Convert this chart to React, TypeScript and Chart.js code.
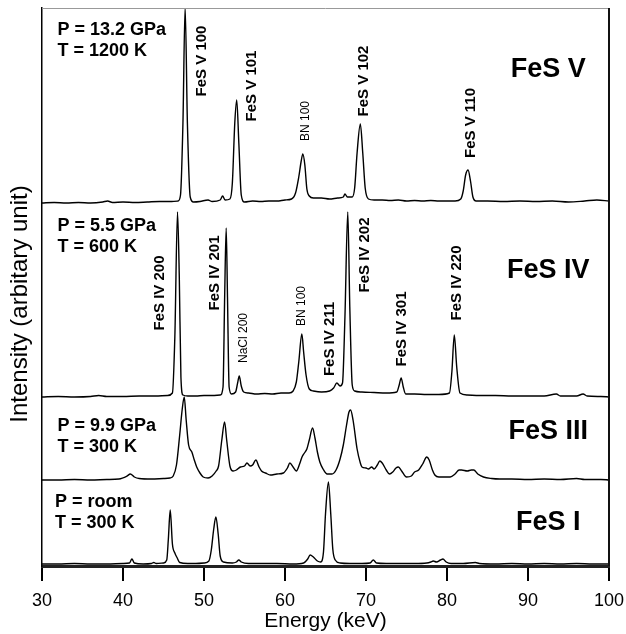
import React, { useEffect, useRef } from 'react';
import { Chart, registerables } from 'chart.js';

Chart.register(...registerables);

const FONT = 'Arial, "Liberation Sans", Helvetica, sans-serif';

// x axis (Energy, keV)
const xMin = 30;
const xMax = 100;
const xStep = 10;
// y axis (arbitrary intensity units)
const yMin = 0;
const yMax = 558;

const seriesNames = ['FeS V', 'FeS IV', 'FeS III', 'FeS I'];
// vertical offset of each spectrum's baseline (arbitrary units)
const seriesOffsets = [363, 169, 86, 2];

// [energy keV, intensity above baseline]
const fesV: [number, number][] = [
  [30, 0], [31.5, 0.5], [33, 0], [34.5, 0.5], [36, 0], [37.5, 1], [38.1, 2], [38.7, 0.5],
  [40, 1], [41.5, 0.5], [43, 1], [44.5, 1.5], [46, 1.5], [46.8, 2], [47.1, 8], [47.4, 80],
  [47.67, 196], [47.95, 80], [48.3, 6], [48.7, 1], [49.5, 1.5], [50.5, 3], [51, 1.5], [52, 3],
  [52.3, 7], [52.6, 3], [53.2, 4], [53.5, 20], [53.8, 80], [54.04, 103], [54.3, 60], [54.6, 8],
  [55, 1], [56, 2], [57, 1.5], [58, 2], [59, 2], [60, 3], [60.8, 4], [61.3, 10], [61.7, 26],
  [62.0, 42], [62.2, 49], [62.45, 38], [62.7, 14], [63.0, 7], [63.5, 5], [64.5, 5], [65.5, 4],
  [66.5, 5], [67.2, 6], [67.4, 9], [67.7, 6], [68.3, 6], [68.6, 15], [68.9, 50], [69.3, 79],
  [69.6, 50], [69.9, 15], [70.3, 4], [71, 3], [72, 3], [73, 2.5], [74, 3], [75, 2], [76, 2.5],
  [77, 2], [78, 2.5], [79, 2], [80, 2], [81, 2], [81.7, 4], [82.0, 12], [82.3, 28], [82.6, 33],
  [82.9, 22], [83.2, 6], [83.6, 2], [85, 2], [87, 1.5], [89, 2], [91, 1.5], [93, 2], [95, 1],
  [97, 2], [98.5, 3], [100, 2],
];

const fesIV: [number, number][] = [
  [30, 0], [32, 0.5], [34, 0], [36, 0.5], [37, 1.5], [38, 0.5], [40, 0.5], [42, 1], [44, 1],
  [45.5, 1.5], [46.1, 4], [46.4, 60], [46.73, 185], [46.95, 120], [47.15, 20], [47.4, 2], [48, 1],
  [49, 1], [50, 1.5], [51, 1.5], [52, 2], [52.35, 10], [52.55, 100], [52.74, 169], [52.9, 100],
  [53.1, 10], [53.4, 3], [53.9, 5], [54.15, 14], [54.35, 21], [54.6, 11], [54.9, 5], [55.5, 4],
  [56.5, 3], [57.5, 3.5], [58.5, 3], [59.5, 4], [60.5, 4], [61.0, 6], [61.4, 15], [61.7, 35],
  [62.08, 63], [62.3, 45], [62.6, 22], [63.0, 8], [63.5, 6], [64.5, 5], [65.5, 6], [66.0, 9],
  [66.4, 14], [66.8, 11], [67.1, 14], [67.4, 80], [67.75, 185], [68.0, 90], [68.3, 12], [68.6, 6],
  [69.5, 5], [71, 4.5], [72.5, 4], [73.8, 5], [74.1, 12], [74.34, 19], [74.6, 10], [74.9, 3],
  [76, 3], [77.5, 2.5], [79, 2.5], [80.3, 4], [80.6, 25], [80.9, 62], [81.2, 30], [81.6, 4],
  [82.5, 2], [84, 1.5], [86, 1.5], [88, 1], [90, 1], [92, 1], [93.5, 3], [94, 1], [96, 1],
  [96.8, 3], [97.3, 1], [99, 0.5], [100, 0],
];

const fesIII: [number, number][] = [
  [30, 0], [32, 0], [34, 0.5], [36, 0], [38, 0.5], [39.5, 1], [40.5, 4], [40.9, 6], [41.4, 3],
  [42, 1.5], [43.5, 1], [45, 1.5], [45.8, 2], [46.2, 4], [46.6, 15], [47.0, 45], [47.3, 70],
  [47.56, 83], [47.8, 60], [48.1, 35], [48.5, 28], [48.8, 20], [49.1, 13], [49.5, 7], [49.9, 3],
  [50.5, 2], [51.0, 4], [51.5, 9], [51.8, 14], [52.2, 40], [52.54, 58], [52.8, 40], [53.2, 14],
  [53.6, 9], [54.0, 10], [54.5, 13], [55.0, 14], [55.3, 17], [55.7, 14], [56.0, 15], [56.4, 20],
  [56.8, 13], [57.1, 9], [57.6, 7], [58.2, 5], [59, 6], [59.8, 7], [60.3, 12], [60.6, 17],
  [61.0, 13], [61.4, 9], [61.8, 16], [62.1, 23], [62.4, 27], [62.7, 31], [63.0, 40], [63.4, 52],
  [63.7, 42], [64.0, 28], [64.3, 18], [64.7, 11], [65.2, 6], [65.8, 6], [66.3, 10], [66.8, 21],
  [67.2, 35], [67.6, 55], [67.9, 68], [68.1, 70], [68.4, 60], [68.9, 31], [69.3, 17], [69.5, 13],
  [70.0, 12], [70.3, 11], [70.7, 13], [71.0, 11], [71.4, 15], [71.7, 19], [72.0, 17], [72.5, 10],
  [72.9, 6], [73.3, 8], [73.7, 12], [74.0, 13], [74.4, 9], [75.0, 3], [75.6, 4], [76.0, 8],
  [76.5, 10], [77.0, 16], [77.5, 23], [77.8, 20], [78.2, 10], [78.5, 5], [79.0, 3], [80.0, 3],
  [80.4, 3], [81.0, 6], [81.5, 10], [81.8, 10], [82.5, 9], [83.0, 10], [83.3, 10], [83.8, 6],
  [84.5, 3], [85.5, 1.5], [86.5, 1], [88, 1], [90, 0.5], [92, 1], [94, 0.5], [96, 1.5], [97, 0.5],
  [99, 0.5], [100, 0],
];

const fesI: [number, number][] = [
  [30, 0], [32, 0], [34, 0.5], [36, 0], [38, 0], [40, 0.5], [40.8, 1], [41.1, 5], [41.4, 1],
  [42.5, 0], [43.5, 0.5], [43.8, 1.5], [44.1, 0.5], [45.0, 1], [45.4, 4], [45.6, 25], [45.83, 54],
  [46.1, 20], [46.4, 11], [46.7, 6], [47.0, 1.5], [48, 0.5], [49, 0.5], [50, 1], [50.6, 3],
  [50.9, 14], [51.2, 35], [51.47, 47], [51.75, 30], [52.0, 8], [52.4, 2], [53.5, 1], [54.0, 2],
  [54.3, 4], [54.6, 2], [55.5, 0.5], [57, 0.5], [59, 0.5], [61, 0], [62.3, 1], [62.8, 5],
  [63.1, 9], [63.5, 7], [64.0, 3], [64.4, 2], [64.75, 12], [65.0, 50], [65.36, 82], [65.65, 50],
  [65.9, 15], [66.2, 4], [66.8, 1], [68, 0.5], [69.5, 0.5], [70.5, 1], [70.9, 4], [71.3, 1],
  [72.5, 0.5], [74, 0.5], [76, 0.5], [77.5, 1], [78.0, 2], [78.3, 3], [78.7, 2], [79.2, 4],
  [79.5, 5], [79.9, 2], [80.5, 0.5], [82, 0.5], [83.5, 1.5], [84, 0.5], [86, 0], [88, 0.5],
  [90, 0], [92, 0.5], [94, 0], [96, 0.5], [98, 0], [100, 0],
];

const spectra = [fesV, fesIV, fesIII, fesI];

// Peak labels: [text, energy, y-value, kind]
const peakLabels: [string, number, number, 'big' | 'small'][] = [
  ['FeS V 100', 49.7, 505, 'big'],
  ['FeS V 101', 55.9, 480, 'big'],
  ['BN 100', 62.6, 445, 'small'],
  ['FeS V 102', 69.7, 485, 'big'],
  ['FeS V 110', 82.9, 443, 'big'],
  ['FeS IV 200', 44.6, 273, 'big'],
  ['FeS IV 201', 51.4, 293, 'big'],
  ['NaCl 200', 54.9, 228, 'small'],
  ['BN 100', 62.0, 260, 'small'],
  ['FeS IV 211', 65.5, 227, 'big'],
  ['FeS IV 202', 69.8, 311, 'big'],
  ['FeS IV 301', 74.4, 237, 'big'],
  ['FeS IV 220', 81.2, 283, 'big'],
];

// Phase names: [energy of centre, y-value]
const phaseLabelPos: [number, number][] = [
  [92.5, 496],
  [92.5, 295],
  [92.5, 134],
  [92.5, 43],
];

// Conditions: [text, energy (left), y-value]
const conditionLabels: [string, number, number][] = [
  ['P = 13.2 GPa', 31.9, 536],
  ['T = 1200 K', 31.9, 515],
  ['P = 5.5 GPa', 31.9, 340],
  ['T = 600 K', 31.9, 319],
  ['P = 9.9 GPa', 31.9, 140],
  ['T = 300 K', 31.9, 119],
  ['P = room', 31.6, 64],
  ['T = 300 K', 31.6, 43],
];

const xTitle = 'Energy (keV)';
const yTitle = 'Intensity (arbitary unit)';

const annotPlugin = {
  id: 'annot',
  afterDatasetsDraw(chart: any) {
    const { ctx, chartArea, scales } = chart;
    const xs = scales.x;
    const ys = scales.y;
    ctx.save();
    // frame: top and right
    ctx.strokeStyle = '#999';
    ctx.lineWidth = 1;
    ctx.beginPath();
    ctx.moveTo(chartArea.left, chartArea.top + 0.5);
    ctx.lineTo(chartArea.right, chartArea.top + 0.5);
    ctx.stroke();
    ctx.strokeStyle = '#111';
    ctx.lineWidth = 2;
    ctx.beginPath();
    ctx.moveTo(chartArea.right, chartArea.top);
    ctx.lineTo(chartArea.right, chartArea.bottom);
    ctx.stroke();

    ctx.fillStyle = '#000';
    ctx.textBaseline = 'middle';
    // rotated peak labels
    peakLabels.forEach(([text, e, v, kind]) => {
      const px = xs.getPixelForValue(e);
      const py = ys.getPixelForValue(v);
      ctx.save();
      ctx.translate(px, py);
      ctx.rotate(-Math.PI / 2);
      ctx.textAlign = 'center';
      ctx.font = kind === 'big' ? `bold 15px ${FONT}` : `12px ${FONT}`;
      ctx.fillText(text, 0, 0);
      ctx.restore();
    });
    // phase names
    ctx.textAlign = 'center';
    ctx.font = `bold 27px ${FONT}`;
    phaseLabelPos.forEach(([e, v], i) => {
      ctx.fillText(seriesNames[i], xs.getPixelForValue(e), ys.getPixelForValue(v));
    });
    // conditions
    ctx.textAlign = 'left';
    ctx.font = `bold 18px ${FONT}`;
    conditionLabels.forEach(([text, e, v]) => {
      ctx.fillText(text, xs.getPixelForValue(e), ys.getPixelForValue(v));
    });
    // y title
    ctx.save();
    ctx.translate(20, (chartArea.top + chartArea.bottom) / 2 + 17);
    ctx.rotate(-Math.PI / 2);
    ctx.textAlign = 'center';
    ctx.font = `24px ${FONT}`;
    ctx.fillText(yTitle, 0, 0);
    ctx.restore();
    ctx.restore();
  },
};

export default function App() {
  const ref = useRef<HTMLCanvasElement | null>(null);
  useEffect(() => {
    if (!ref.current) return;
    const chart = new Chart(ref.current, {
      type: 'line',
      data: {
        datasets: spectra.map((s, i) => ({
          label: seriesNames[i],
          data: s.map(([e, r]) => ({ x: e, y: r + seriesOffsets[i] })),
          borderColor: '#000',
          borderWidth: 1.4,
          pointRadius: 0,
          fill: false,
          cubicInterpolationMode: 'monotone',
        })),
      },
      options: {
        responsive: false,
        animation: false,
        layout: { padding: { top: 8, right: 17, left: 0, bottom: 0 } },
        plugins: { legend: { display: false }, tooltip: { enabled: false } },
        scales: {
          x: {
            type: 'linear',
            min: xMin,
            max: xMax,
            ticks: {
              stepSize: xStep,
              font: { family: FONT, size: 18 },
              color: '#000',
              padding: 9,
              maxRotation: 0,
              autoSkip: false,
            },
            grid: { display: true, drawOnChartArea: false, drawTicks: true, tickLength: 15, color: '#000', lineWidth: 2 },
            border: { display: true, color: '#222', width: 3 },
            title: { display: true, text: xTitle, font: { family: FONT, size: 21 }, color: '#000', padding: 0 },
            afterFit: (s: any) => {
              s.height = 68;
              s.paddingLeft = 0;
              s.paddingRight = 0;
            },
          },
          y: {
            type: 'linear',
            min: yMin,
            max: yMax,
            ticks: { display: false },
            grid: { display: false },
            border: { display: true, color: '#000', width: 1.5 },
            afterFit: (s: any) => { s.width = 42; },
          },
        },
      } as any,
      plugins: [annotPlugin],
    });
    return () => chart.destroy();
  }, []);
  return (
    <div style={{ position: 'fixed', left: 0, top: 0, width: 626, height: 634, background: '#fff' }}>
      <canvas ref={ref} width={626} height={634} />
    </div>
  );
}
